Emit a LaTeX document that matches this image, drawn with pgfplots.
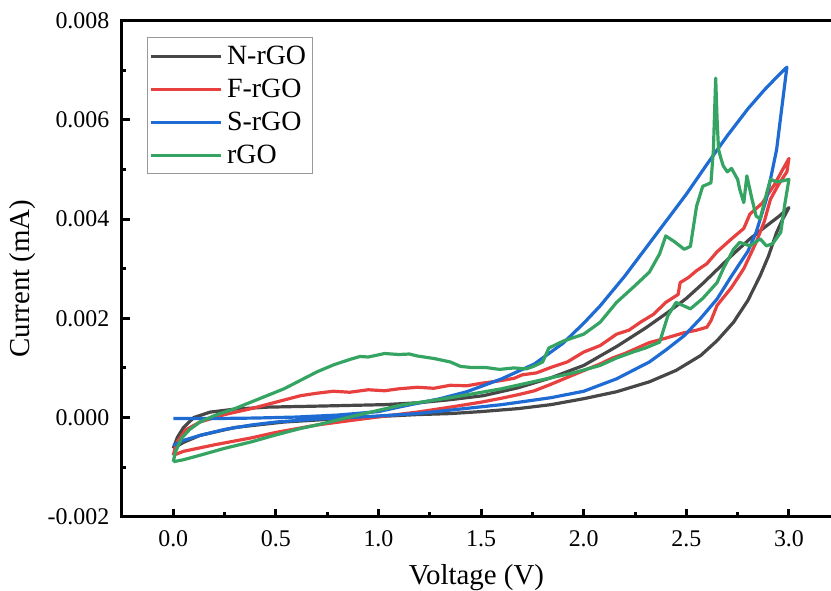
\documentclass[border=0pt]{standalone}
\usepackage{fontspec}
\setmainfont{Liberation Serif}
\usepackage{pgfplots}
\pgfplotsset{compat=1.18}

\definecolor{cN}{HTML}{474747}
\definecolor{cF}{HTML}{E8403F}
\definecolor{cS}{HTML}{1F6BD4}
\definecolor{cR}{HTML}{35A462}

\begin{document}
\begin{tikzpicture}
\begin{axis}[
    scale only axis,
    width=354.65bp, height=248.25bp,
    xmin=-0.25, xmax=3.205,
    ymin=-0.002, ymax=0.008,
    clip=false,
    axis line style={draw=none},
    xtick={0,0.5,1,1.5,2,2.5,3},
    ytick={-0.002,0,0.002,0.004,0.006,0.008},
    minor x tick num=1, minor y tick num=1,
    xtick pos=bottom, ytick pos=left,
    tick align=inside,
    major tick length=4bp, minor tick length=2.2bp,
    major tick style={line width=1.5bp, black},
    minor tick style={line width=1.5bp, black},
    scaled y ticks=false,
    /pgf/number format/assume math mode=true,
    xticklabel style={font=\fontsize{12}{14}\selectfont, yshift=-3.3bp,
        /pgf/number format/fixed, /pgf/number format/fixed zerofill,
        /pgf/number format/precision=1},
    yticklabel style={font=\fontsize{12}{14}\selectfont, xshift=-2.8bp,
        /pgf/number format/fixed, /pgf/number format/fixed zerofill,
        /pgf/number format/precision=3},
    xlabel={Voltage (V)},
    ylabel={Current (mA)},
    xlabel style={font=\fontsize{14.5}{16}\selectfont,
        at={(axis description cs:0.5,0)}, anchor=base, yshift=-34bp},
    ylabel style={font=\fontsize{14.5}{16}\selectfont,
        at={(axis description cs:-0.1406,0.48)}, anchor=center},
    legend style={at={(0.0352,0.9658)}, anchor=north west,
        draw=gray!80, line width=0.5bp, inner sep=1bp,
        font=\fontsize{14}{16}\selectfont,
        nodes={text height=10bp, text depth=2bp, inner sep=2.25bp}},
    legend cell align=left,
    legend image code/.code={\draw[#1] (0bp,0bp) -- (35bp,0bp);},
    every axis plot/.append style={line width=1.6bp, line join=round},
]
\coordinate (bl) at (axis description cs:0,0);
\coordinate (tr) at (axis description cs:1,1);
\draw[line width=1.5bp, line cap=rect] (axis description cs:1,1) -- (axis description cs:0,1)
    -- (axis description cs:0,0) -- (axis description cs:1,0);

% N-rGO
\addplot[cN] coordinates {
(0.00,-0.00062) (0.02,-0.00040) (0.05,-0.00020) (0.10,0.00000) (0.18,0.00011)
(0.30,0.00017) (0.46,0.00021) (0.70,0.00023) (1.03,0.00026) (1.20,0.00030)
(1.35,0.00036) (1.51,0.00044) (1.68,0.00060) (1.84,0.00080) (2.00,0.00105)
(2.16,0.00143) (2.30,0.00180) (2.41,0.00212) (2.50,0.00240) (2.58,0.00270)
(2.66,0.00302) (2.73,0.00330) (2.81,0.00360) (2.89,0.00386) (2.95,0.00405)
(3.00,0.00423)
(2.97,0.00400) (2.94,0.00373) (2.90,0.00325) (2.86,0.00286) (2.80,0.00236)
(2.73,0.00192) (2.65,0.00155) (2.57,0.00125) (2.45,0.00095) (2.32,0.00072)
(2.16,0.00052) (2.00,0.00038) (1.84,0.00026) (1.68,0.00018) (1.50,0.00012)
(1.35,0.00008) (1.19,0.00006) (0.90,0.00000) (0.54,-0.00009) (0.30,-0.00020)
(0.13,-0.00036) (0.05,-0.00050) (0.00,-0.00062)
};
\addlegendentry{N-rGO}

% F-rGO
\addplot[cF] coordinates {
(0.00,-0.00076) (0.01,-0.00060) (0.02,-0.00049) (0.06,-0.00025) (0.13,-0.00009)
(0.25,0.00006) (0.38,0.00018) (0.50,0.00031) (0.62,0.00044) (0.70,0.00049)
(0.78,0.00053) (0.86,0.00051) (0.95,0.00056) (1.03,0.00054) (1.10,0.00058)
(1.19,0.00061) (1.27,0.00059) (1.35,0.00065) (1.43,0.00064) (1.50,0.00069)
(1.59,0.00074) (1.66,0.00079) (1.70,0.00086) (1.77,0.00090) (1.84,0.00101)
(1.92,0.00112) (2.00,0.00132) (2.08,0.00145) (2.16,0.00168) (2.22,0.00176)
(2.28,0.00193) (2.34,0.00208) (2.40,0.00232) (2.46,0.00248) (2.47,0.00272)
(2.51,0.00282) (2.55,0.00296) (2.60,0.00310) (2.65,0.00334) (2.72,0.00360)
(2.78,0.00381) (2.81,0.00410) (2.87,0.00432) (2.93,0.00470) (2.97,0.00500)
(3.00,0.00522)
(2.99,0.00495) (2.95,0.00470) (2.91,0.00440) (2.88,0.00395) (2.84,0.00353)
(2.78,0.00300) (2.72,0.00262) (2.65,0.00226) (2.62,0.00195) (2.60,0.00182)
(2.55,0.00176) (2.49,0.00171) (2.40,0.00160) (2.32,0.00151) (2.26,0.00140)
(2.20,0.00129) (2.14,0.00120) (2.08,0.00108) (2.02,0.00098) (1.95,0.00086)
(1.84,0.00067) (1.76,0.00054) (1.68,0.00046) (1.60,0.00039) (1.50,0.00031)
(1.35,0.00021) (1.19,0.00011) (1.05,0.00004) (0.90,-0.00004) (0.70,-0.00015)
(0.50,-0.00030) (0.38,-0.00041) (0.20,-0.00055) (0.05,-0.00068) (0.00,-0.00076)
};
\addlegendentry{F-rGO}

% S-rGO
\addplot[cS] coordinates {
(0.00,-0.00002) (0.20,-0.00002) (0.40,-0.00001) (0.60,0.00001) (0.80,0.00005)
(1.00,0.00012) (1.11,0.00022) (1.30,0.00038) (1.43,0.00052) (1.60,0.00078)
(1.76,0.00108) (1.90,0.00150) (2.00,0.00190) (2.08,0.00225) (2.20,0.00285)
(2.30,0.00340) (2.40,0.00395) (2.50,0.00450) (2.60,0.00510) (2.70,0.00568)
(2.80,0.00622) (2.88,0.00660) (2.95,0.00690) (2.99,0.00706)
(2.97,0.00640) (2.94,0.00540) (2.89,0.00440) (2.84,0.00373) (2.80,0.00335)
(2.72,0.00285) (2.65,0.00239) (2.57,0.00200) (2.49,0.00165) (2.40,0.00136)
(2.32,0.00112) (2.16,0.00078) (2.00,0.00053) (1.84,0.00040) (1.60,0.00026)
(1.35,0.00015) (1.19,0.00008) (0.95,0.00002) (0.70,-0.00003) (0.50,-0.00009)
(0.38,-0.00015) (0.25,-0.00024) (0.13,-0.00036) (0.05,-0.00046) (0.00,-0.00056)
};
\addlegendentry{S-rGO}

% rGO
\addplot[cR] coordinates {
(0.00,-0.00089) (0.01,-0.00070) (0.04,-0.00042) (0.08,-0.00024) (0.13,-0.00009)
(0.20,0.00004) (0.30,0.00018) (0.42,0.00038) (0.54,0.00058) (0.62,0.00075)
(0.70,0.00092) (0.78,0.00106) (0.86,0.00117) (0.91,0.00123) (0.95,0.00122)
(1.03,0.00129) (1.10,0.00127) (1.15,0.00128) (1.19,0.00124) (1.27,0.00119)
(1.35,0.00112) (1.40,0.00103) (1.45,0.00101) (1.52,0.00101) (1.59,0.00097)
(1.66,0.00100) (1.72,0.00098) (1.76,0.00104) (1.80,0.00112) (1.83,0.00140)
(1.90,0.00154) (2.00,0.00168) (2.08,0.00192) (2.16,0.00232) (2.24,0.00262)
(2.32,0.00293) (2.37,0.00330) (2.40,0.00366) (2.44,0.00355) (2.49,0.00339)
(2.52,0.00345) (2.55,0.00426) (2.58,0.00466) (2.62,0.00473) (2.632,0.00540)
(2.643,0.00684) (2.650,0.00600) (2.657,0.00540) (2.67,0.00520) (2.68,0.00507)
(2.70,0.00495) (2.72,0.00502) (2.75,0.00480) (2.76,0.00460) (2.78,0.00433)
(2.795,0.00487) (2.82,0.00440) (2.84,0.00406) (2.86,0.00400) (2.89,0.00450)
(2.91,0.00480) (2.94,0.00475) (2.97,0.00477) (3.00,0.00480)
(2.98,0.00430) (2.96,0.00373) (2.92,0.00350) (2.89,0.00346) (2.86,0.00360)
(2.81,0.00346) (2.76,0.00353) (2.73,0.00339) (2.68,0.00300) (2.65,0.00272)
(2.58,0.00240) (2.52,0.00219) (2.45,0.00232) (2.41,0.00205) (2.37,0.00152)
(2.30,0.00140) (2.24,0.00132) (2.16,0.00120) (2.08,0.00105) (1.95,0.00090)
(1.84,0.00080) (1.60,0.00058) (1.35,0.00040) (1.11,0.00025) (0.90,0.00005)
(0.70,-0.00015) (0.62,-0.00022) (0.50,-0.00035) (0.38,-0.00049) (0.25,-0.00062)
(0.13,-0.00076) (0.05,-0.00085) (0.00,-0.00089)
};
\addlegendentry{rGO}
\end{axis}
\pgfresetboundingbox
\path ([xshift=-61bp,yshift=-37bp]bl) rectangle ([yshift=10.25bp]tr);
\end{tikzpicture}
\end{document}
